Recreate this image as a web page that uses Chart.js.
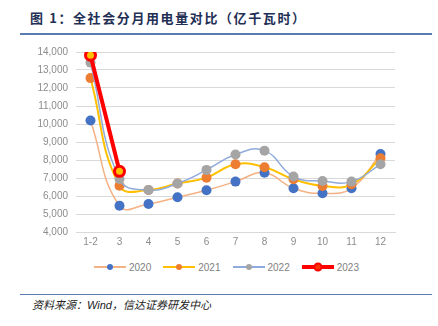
<!DOCTYPE html>
<html>
<head>
<meta charset="utf-8">
<script src="https://cdn.jsdelivr.net/npm/chart.js@4"></script>
<style>
  html, body { margin: 0; padding: 0; background: #fff; }
  body { width: 438px; height: 326px; position: relative; overflow: hidden;
         font-family: "Noto Sans CJK SC", "Noto Sans", sans-serif; }
  #title { position: absolute; left: 30px; top: 8px; font-size: 13px; font-weight: bold;
           color: #1F2F55; letter-spacing: 1.6px; white-space: nowrap; }
  #rule-top { position: absolute; left: 20px; top: 33px; width: 412px; height: 2px; background: #5A7AB0; }
  #rule-bottom { position: absolute; left: 20px; top: 294px; width: 412px; height: 1px; background: #5A7AB0; }
  #source { position: absolute; left: 32px; top: 296px; font-size: 11px; font-style: italic;
            color: #222; white-space: nowrap; }
  #wrap { position: absolute; left: 0; top: 38px; width: 438px; height: 220px; }
  #legend { position: absolute; left: 94px; top: 261px; display: flex; align-items: center;
            font-family: "Liberation Sans", "Noto Sans", sans-serif; font-size: 10px; color: #7F7F7F; }
  #legend .item { display: flex; align-items: center; margin-right: 12px; }
  #legend canvas { display: block; margin-right: 3px; }
</style>
</head>
<body>
<div id="title">图 1：全社会分月用电量对比（亿千瓦时）</div>
<div id="rule-top"></div>
<div id="wrap"><canvas id="c" width="438" height="220"></canvas></div>
<div id="legend"></div>
<div id="rule-bottom"></div>
<div id="source">资料来源：<span style="font-family:'Liberation Sans',sans-serif">Wind</span>，信达证券研发中心</div>
<script>
// monthly consumption, 100 million kWh
const months = ['1-2', '3', '4', '5', '6', '7', '8', '9', '10', '11', '12'];
const y2020 = [10190, 5460, 5560, 5930, 6320, 6800, 7290, 6430, 6150, 6430, 8330];
const y2021 = [12550, 6570, 6330, 6690, 7020, 7760, 7600, 6930, 6560, 6650, 8100];
const y2022 = [13410, 6940, 6330, 6690, 7450, 8310, 8520, 7080, 6830, 6800, 7760];
const y2023 = [13820, 7370];
const yTicks = [4000, 5000, 6000, 7000, 8000, 9000, 10000, 11000, 12000, 13000, 14000];

// small line-with-dot swatch for the legend
function swatch(line, dotFill, dotBorder, lw, r, bw) {
  const c = document.createElement('canvas');
  c.width = 32; c.height = 12;
  const g = c.getContext('2d');
  g.strokeStyle = line; g.lineWidth = lw;
  g.beginPath(); g.moveTo(0, 6); g.lineTo(32, 6); g.stroke();
  g.beginPath(); g.arc(16, 6, r, 0, Math.PI * 2);
  g.fillStyle = dotFill; g.fill();
  if (bw) { g.strokeStyle = dotBorder; g.lineWidth = bw; g.stroke(); }
  return c;
}

const series = [
  { label: '2020', data: y2020, borderColor: '#F4B183', borderWidth: 1.5, pointBackgroundColor: '#4472C4',
    pointBorderColor: '#4472C4', pointRadius: 5, pointBorderWidth: 0, tension: 0.45, order: 3,
    icon: swatch('#F4B183', '#4472C4', '#4472C4', 2, 3, 0) },
  { label: '2021', data: y2021, borderColor: '#FFC000', borderWidth: 2, pointBackgroundColor: '#ED7D31',
    pointBorderColor: '#ED7D31', pointRadius: 5, pointBorderWidth: 0, tension: 0.45, order: 2,
    icon: swatch('#FFC000', '#ED7D31', '#ED7D31', 2, 3, 0) },
  { label: '2022', data: y2022, borderColor: '#8FAADC', borderWidth: 1.5, pointBackgroundColor: '#A5A5A5',
    pointBorderColor: '#A5A5A5', pointRadius: 5, pointBorderWidth: 0, tension: 0.45, order: 1,
    icon: swatch('#8FAADC', '#A5A5A5', '#A5A5A5', 2, 3, 0) },
  { label: '2023', data: y2023, borderColor: '#FF0000', borderWidth: 4, pointBackgroundColor: '#FFC000',
    pointBorderColor: '#FF0000', pointRadius: 5, pointBorderWidth: 3, tension: 0, order: 0,
    icon: swatch('#FF0000', '#FF3300', '#FF0000', 4, 3.5, 2) }
];

// legend entries
const legendEl = document.getElementById('legend');
series.forEach(s => {
  const item = document.createElement('div');
  item.className = 'item';
  item.appendChild(s.icon);
  const t = document.createElement('span');
  t.textContent = s.label;
  item.appendChild(t);
  legendEl.appendChild(item);
});

new Chart(document.getElementById('c'), {
  type: 'line',
  data: { labels: months, datasets: series.map(s => {
    const d = Object.assign({ fill: false, pointHoverRadius: s.pointRadius }, s);
    delete d.icon;
    return d;
  }) },
  options: {
    responsive: false,
    animation: false,
    devicePixelRatio: 1,
    layout: { padding: { top: 14, right: 43, left: 0, bottom: 8 } },
    plugins: {
      tooltip: { enabled: false },
      legend: { display: false }
    },
    scales: {
      x: {
        offset: true,
        afterFit: (s) => { s.height = 18; },
        grid: { display: false, drawTicks: false },
        border: { color: '#D9D9D9' },
        ticks: { color: '#8C8C8C', padding: 4, maxRotation: 0,
                 font: { family: "'Liberation Sans', 'Noto Sans', sans-serif", size: 10 } }
      },
      y: {
        min: 4000, max: 14000,
        afterBuildTicks: (s) => { s.ticks = yTicks.map(v => ({ value: v })); },
        afterFit: (s) => { s.width = 76; },
        grid: { color: '#D9D9D9', drawTicks: false },
        border: { display: false },
        ticks: { color: '#8C8C8C', padding: 8,
                 font: { family: "'Liberation Sans', 'Noto Sans', sans-serif", size: 10 },
                 callback: (v) => Number(v).toLocaleString('en-US') }
      }
    }
  }
});
</script>
</body>
</html>
